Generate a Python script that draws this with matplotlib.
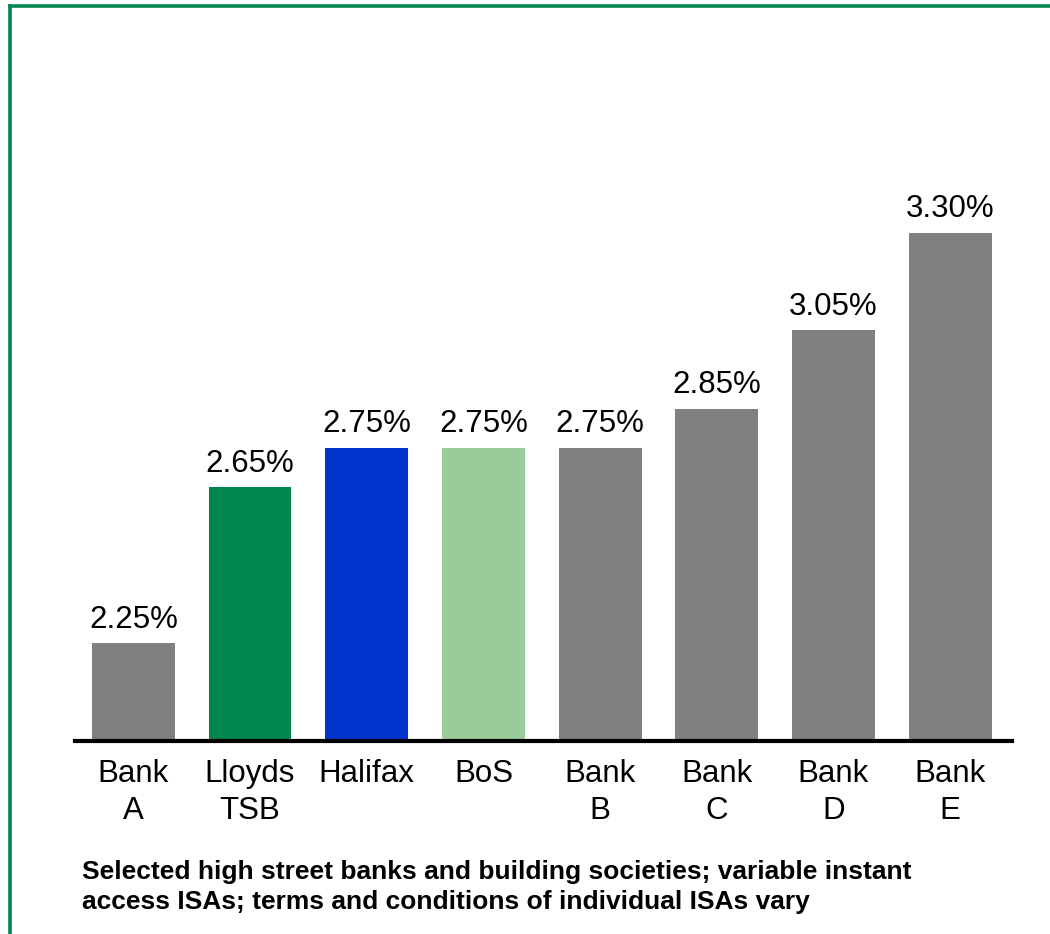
import matplotlib.pyplot as plt
from matplotlib.lines import Line2D

plt.rcParams["font.family"] = ["Liberation Sans", "DejaVu Sans"]

# ISA rates, selected banks
labels = ["Bank\nA", "Lloyds\nTSB", "Halifax", "BoS", "Bank\nB", "Bank\nC", "Bank\nD", "Bank\nE"]
rates = [2.25, 2.65, 2.75, 2.75, 2.75, 2.85, 3.05, 3.30]
colors = ["#808080", "#00874F", "#0033CC", "#99CC99", "#808080", "#808080", "#808080", "#808080"]
caption = ("Selected high street banks and building societies; variable instant\n"
           "access ISAs; terms and conditions of individual ISAs vary")

green = "#00874F"

fig = plt.figure(figsize=(10.5, 9.34), dpi=100)
ax = fig.add_axes([75 / 1050, 193 / 934, (1012 - 75) / 1050, 1.5 * 391 / 934])

x = range(len(rates))
bars = ax.bar(x, rates, width=0.71, color=colors, bottom=0)
ax.set_ylim(2.0, 3.5)
ax.set_xlim(-0.5, 7.53)

for xi, r in zip(x, rates):
    ax.annotate(f"{r:.2f}%", (xi, r), xytext=(0, 11), textcoords="offset points",
                ha="center", va="baseline", fontsize=22.5)

ax.set_xticks(list(x))
ax.set_xticklabels(labels, fontsize=22.5, linespacing=1.3)
ax.tick_params(axis="x", length=0, pad=13)
ax.set_yticks([])
for side in ["left", "right", "top"]:
    ax.spines[side].set_visible(False)
ax.spines["bottom"].set_linewidth(3)
ax.spines["bottom"].set_color("black")

fig.text(82 / 1050, 1 - 860 / 934, caption, fontsize=19, fontweight="bold",
         ha="left", va="top", linespacing=1.3)

# green frame, left and top edges
fig.add_artist(Line2D([10 / 1050, 10 / 1050], [0, 1 - 6 / 934], color=green, lw=2.6,
                      transform=fig.transFigure))
fig.add_artist(Line2D([10 / 1050, 1], [1 - 6 / 934, 1 - 6 / 934], color=green, lw=2.6,
                      transform=fig.transFigure))

fig.savefig("out.png", dpi=100)
